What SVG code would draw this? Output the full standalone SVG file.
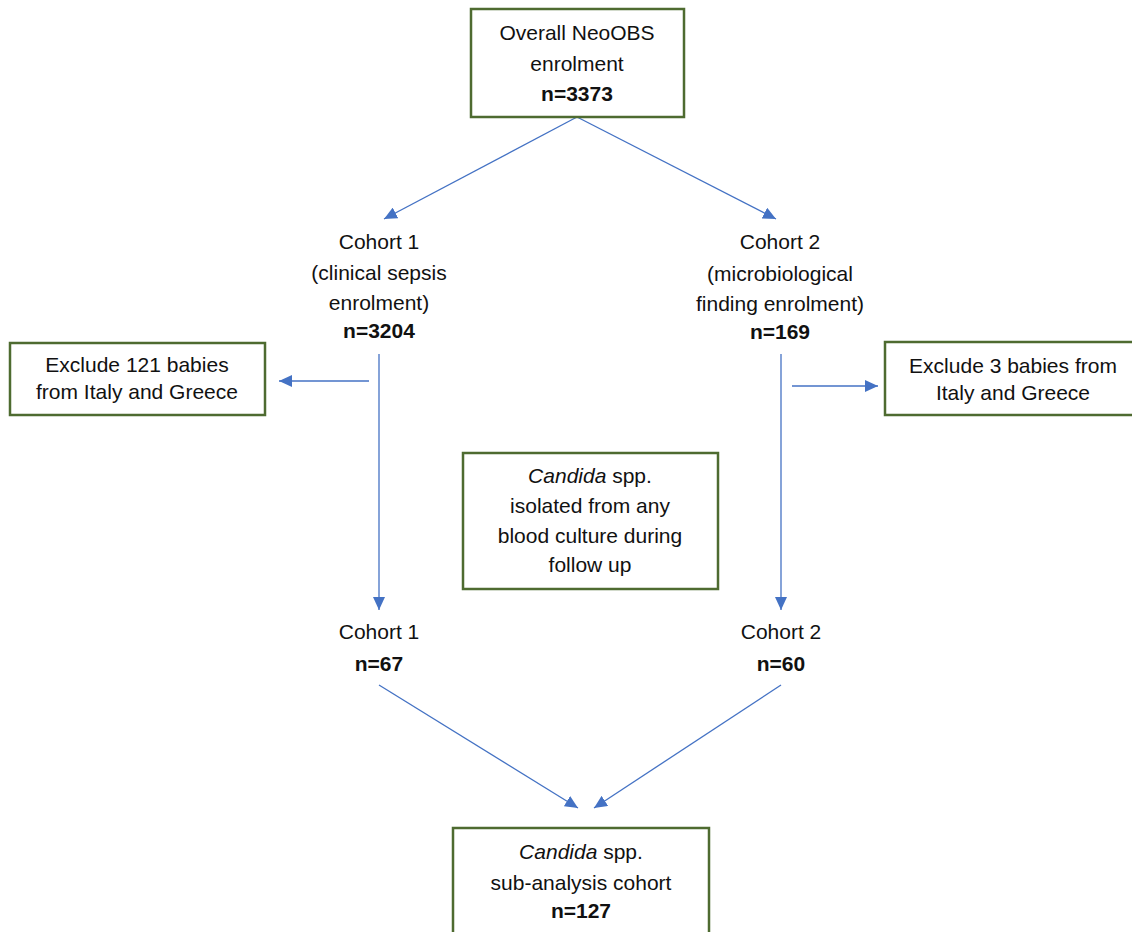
<svg xmlns="http://www.w3.org/2000/svg" width="1132" height="932" viewBox="0 0 1132 932">
<style>
  .box { fill: #ffffff; stroke: #4e6b30; stroke-width: 2.5; }
  .t { font-family: "Liberation Sans", Arial, sans-serif; font-size: 21px; fill: #111111; text-anchor: middle; }
  .b { font-weight: bold; }
  .i { font-style: italic; }
  .conn { stroke: #4472c4; stroke-width: 1.3; fill: none; marker-end: url(#arr); }
</style>
<defs>
  <marker id="arr" markerUnits="userSpaceOnUse" markerWidth="14" markerHeight="12" refX="13" refY="6" orient="auto">
    <path d="M0,0 L13,6 L0,12 z" fill="#4472c4"/>
  </marker>
</defs>
<rect width="1132" height="932" fill="#ffffff"/>

<g id="connectors">
  <line class="conn" x1="577" y1="117" x2="384" y2="219"/>
  <line class="conn" x1="577" y1="117" x2="776" y2="219"/>
  <line class="conn" x1="379" y1="354" x2="379" y2="610"/>
  <line class="conn" x1="781" y1="354" x2="781" y2="610"/>
  <line class="conn" x1="369" y1="381" x2="279" y2="381"/>
  <line class="conn" x1="792" y1="386" x2="878" y2="386"/>
  <line class="conn" x1="379" y1="685" x2="578" y2="808"/>
  <line class="conn" x1="781" y1="685" x2="594" y2="808"/>
</g>

<g id="overall">
  <rect class="box" x="471" y="9" width="213" height="108"/>
  <text class="t" x="577" y="40">Overall NeoOBS</text>
  <text class="t" x="577" y="71">enrolment</text>
  <text class="t b" x="577" y="101">n=3373</text>
</g>

<g id="cohort1">
  <text class="t" x="379" y="249">Cohort 1</text>
  <text class="t" x="379" y="280">(clinical sepsis</text>
  <text class="t" x="379" y="310">enrolment)</text>
  <text class="t b" x="379" y="338">n=3204</text>
</g>

<g id="cohort2">
  <text class="t" x="780" y="249">Cohort 2</text>
  <text class="t" x="780" y="281">(microbiological</text>
  <text class="t" x="780" y="311">finding enrolment)</text>
  <text class="t b" x="780" y="339">n=169</text>
</g>

<g id="exclude1">
  <rect class="box" x="10" y="343" width="255" height="72"/>
  <text class="t" x="137" y="372">Exclude 121 babies</text>
  <text class="t" x="137" y="399">from Italy and Greece</text>
</g>

<g id="exclude2">
  <rect class="box" x="885" y="342" width="260" height="73"/>
  <text class="t" x="1013" y="373">Exclude 3 babies from</text>
  <text class="t" x="1013" y="400">Italy and Greece</text>
</g>

<g id="criteria">
  <rect class="box" x="463" y="453" width="255" height="136"/>
  <text class="t" x="590" y="483"><tspan class="i">Candida</tspan> spp.</text>
  <text class="t" x="590" y="513">isolated from any</text>
  <text class="t" x="590" y="543">blood culture during</text>
  <text class="t" x="590" y="572">follow up</text>
</g>

<g id="cohort1b">
  <text class="t" x="379" y="639">Cohort 1</text>
  <text class="t b" x="379" y="671">n=67</text>
</g>

<g id="cohort2b">
  <text class="t" x="781" y="639">Cohort 2</text>
  <text class="t b" x="781" y="671">n=60</text>
</g>

<g id="subanalysis">
  <rect class="box" x="453" y="828" width="256" height="120"/>
  <text class="t" x="581" y="859"><tspan class="i">Candida</tspan> spp.</text>
  <text class="t" x="581" y="890">sub-analysis cohort</text>
  <text class="t b" x="581" y="918">n=127</text>
</g>
</svg>
